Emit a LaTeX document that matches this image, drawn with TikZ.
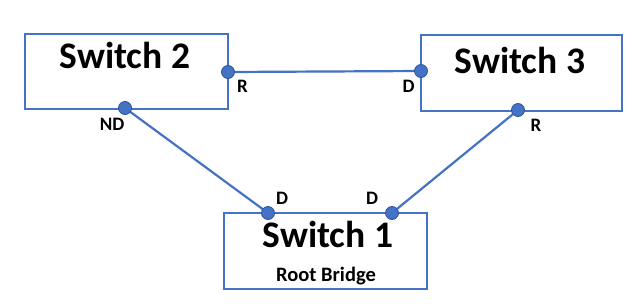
\documentclass[tikz,border=0pt]{standalone}
\usepackage{fontspec}
\setmainfont{Carlito}
\begin{document}
\begin{tikzpicture}[x=1pt,y=-1pt,
  switchbox/.style={draw=linkblue,line width=1.8pt,fill=white,inner sep=0pt},
  title/.style={anchor=base,inner sep=0pt,font=\fontsize{37.5}{40}\selectfont\bfseries},
  port/.style={circle,fill=linkblue,draw=portedge,line width=0.8pt,minimum size=13pt,inner sep=0pt},
  link/.style={draw=linkblue,line width=2.2pt},
  plabel/.style={anchor=base,font=\fontsize{19}{20}\selectfont\bfseries,inner sep=0pt}]
\definecolor{linkblue}{HTML}{4472C4}
\definecolor{portedge}{HTML}{2F5597}
\useasboundingbox (0,0) rectangle (643,306);
% switch boxes
\draw[switchbox] (25,34) rectangle (228,109);
\draw[switchbox] (421,35) rectangle (622,111);
\draw[switchbox] (224,213) rectangle (427,289);
\node[title] (s2) at (125,68) {Switch 2};
\node[title] (s3) at (520,73) {Switch 3};
\node[title] (s1) at (328,247) {Switch 1};
\node[anchor=base,inner sep=0pt,font=\fontsize{20.5}{22}\selectfont\bfseries] (rb) at (326,281) {Root Bridge};
% port centres
\coordinate (c2r) at (228,72);
\coordinate (c2b) at (125,108);
\coordinate (c3l) at (421,71);
\coordinate (c3b) at (518,110);
\coordinate (c1l) at (268,213);
\coordinate (c1r) at (392,213);
% links
\draw[link] (c2r) -- (c3l);
\draw[link] (c2b) -- (c1l);
\draw[link] (c3b) -- (c1r);
% ports
\node[port] (p2r) at (c2r) {};
\node[port] (p2b) at (c2b) {};
\node[port] (p3l) at (c3l) {};
\node[port] (p3b) at (c3b) {};
\node[port] (p1l) at (c1l) {};
\node[port] (p1r) at (c1r) {};
% port roles
\node[plabel] (l2r) at (242.5,92) {R};
\node[plabel] (l3l) at (408.5,92) {D};
\node[plabel] (l2b) at (112,130) {ND};
\node[plabel] (l3b) at (536,131) {R};
\node[plabel] (l1l) at (282,204) {D};
\node[plabel] (l1r) at (372,204) {D};
\end{tikzpicture}
\end{document}
